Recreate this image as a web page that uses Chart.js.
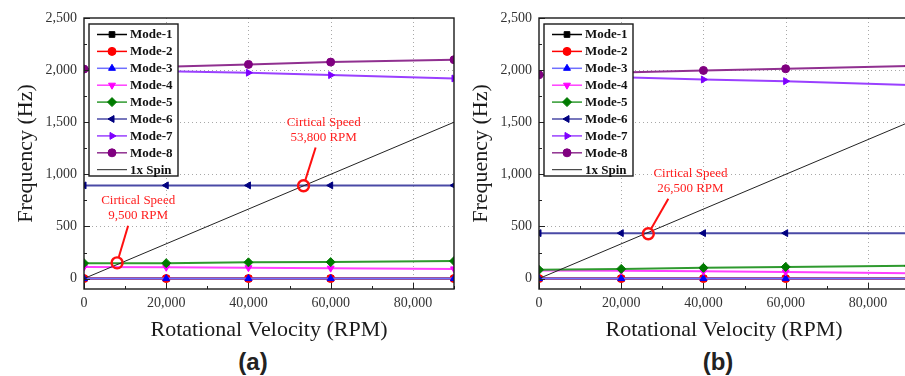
<!DOCTYPE html>
<html>
<head>
<meta charset="utf-8">
<script src="https://cdn.jsdelivr.net/npm/chart.js@4.4.0/dist/chart.umd.min.js"></script>
<style>
  html, body { margin: 0; padding: 0; background: #fff; overflow: hidden; }
  body { width: 905px; height: 376px; position: relative; }
  .panel { position: absolute; top: 0; width: 460px; height: 345px; }
  .tag { position: absolute; top: 347px; width: 80px; text-align: center;
         font: bold 24px 'Liberation Sans', sans-serif; color: #222; line-height: 30px; }
</style>
</head>
<body>
<div class="panel" style="left:0"><canvas id="chartA"></canvas></div>
<div class="panel" style="left:455px"><canvas id="chartB"></canvas></div>
<div class="tag" style="left:213px">(a)</div>
<div class="tag" style="left:678px">(b)</div>
<script>
// --- Data ---
const rpm = [0, 20000, 40000, 60000, 90000];
const spinRpm = [0, 90000];
const spinHz = spinRpm.map(v => v / 60);   // 1x spin line: f = rpm / 60

const modeNames = ['Mode-1', 'Mode-2', 'Mode-3', 'Mode-4', 'Mode-5', 'Mode-6', 'Mode-7', 'Mode-8'];

// panel (a)
const a1 = [0, 0, 0, 0, 0];
const a2 = [0, 0, 0, 0, 0];
const a3 = [0, 0, 0, 0, 0];
const a4 = [110, 108, 104, 100, 93];
const a5 = [148, 148, 156, 158, 168];
const a6 = [894, 894, 894, 894, 894];
const a7 = [2000, 1988, 1975, 1952, 1920];
const a8 = [2010, 2032, 2055, 2077, 2100];

// panel (b)
const b1 = [0, 0, 0, 0, 0];
const b2 = [0, 0, 0, 0, 0];
const b3 = [0, 0, 0, 0, 0];
const b4 = [77, 74, 70, 64, 52];
const b5 = [84, 93, 103, 112, 122];
const b6 = [436, 436, 436, 436, 436];
const b7 = [1952, 1932, 1910, 1894, 1856];
const b8 = [1955, 1978, 1997, 2013, 2040];

const xTicks = [0, 20000, 40000, 60000, 80000];
const yTicks = [0, 500, 1000, 1500, 2000, 2500];
const xMinor = [10000, 30000, 50000, 70000, 90000];
const yMinor = [250, 750, 1250, 1750, 2250];

// critical speed annotations: circle (rpm, Hz), label centre, pointer start
const notesA = [
  { cx: 53400, cy: 890, px: 56340, py: 1257, lx: 58300, ly: 1420, text: ['Cirtical Speed', '53,800 RPM'] },
  { cx: 8050, cy: 151, px: 10730, py: 507, lx: 13170, ly: 680, text: ['Cirtical Speed', '9,500 RPM'] }
];
const notesB = [
  { cx: 26585, cy: 430, px: 31460, py: 766, lx: 36830, ly: 940, text: ['Cirtical Speed', '26,500 RPM'] }
];

// --- Styles ---
const modeStyle = [
  { color: '#000000', line: '#000000', point: 'rect', rot: 0 },
  { color: '#ff0000', line: '#ff0000', point: 'circle', rot: 0 },
  { color: '#0000ff', line: '#6f6fff', point: 'triangle', rot: 0 },
  { color: '#ff00ff', line: '#ff40ff', point: 'triangle', rot: 180 },
  { color: '#007a00', line: '#2f9a2f', point: 'rectRot', rot: 0 },
  { color: '#000080', line: '#4a4aa6', point: 'triangle', rot: 270 },
  { color: '#7f00ff', line: '#9a40ff', point: 'triangle', rot: 90 },
  { color: '#800080', line: '#903090', point: 'circle', rot: 0 }
];

const serif = "'Liberation Serif', 'Times New Roman', serif";

function buildDatasets(modes) {
  const sets = modes.map((vals, i) => ({
    label: modeNames[i],
    data: rpm.map((x, k) => ({ x: x, y: vals[k] })),
    borderColor: modeStyle[i].line,
    backgroundColor: modeStyle[i].color,
    pointBorderColor: modeStyle[i].color,
    pointBackgroundColor: modeStyle[i].color,
    pointStyle: modeStyle[i].point,
    rotation: modeStyle[i].rot,
    pointRadius: modeStyle[i].point === 'rectRot' ? 4.5 : 4,
    pointBorderWidth: 1,
    borderWidth: 2,
    order: 10 - i
  }));
  sets.push({
    label: '1x Spin',
    data: spinRpm.map((x, k) => ({ x: x, y: spinHz[k] })),
    borderColor: '#222',
    borderWidth: 1,
    pointRadius: 0,
    order: 0
  });
  return sets;
}

// dotted grid under the data
const gridPlugin = {
  id: 'dotGrid',
  beforeDatasetsDraw(chart) {
    const ctx = chart.ctx;
    const area = chart.chartArea;
    const xs = chart.scales.x, ys = chart.scales.y;
    ctx.save();
    ctx.strokeStyle = '#a8a8a8';
    ctx.lineWidth = 1;
    ctx.setLineDash([1, 3]);
    ctx.beginPath();
    xTicks.slice(1).forEach(v => { const px = Math.round(xs.getPixelForValue(v)) + 0.5; ctx.moveTo(px, area.top); ctx.lineTo(px, area.bottom); });
    yTicks.slice(1, -1).forEach(v => { const py = Math.round(ys.getPixelForValue(v)) + 0.5; ctx.moveTo(area.left, py); ctx.lineTo(area.right, py); });
    ctx.stroke();
    ctx.restore();
  }
};

// frame, inward ticks, legend box and annotations
const decorPlugin = {
  id: 'decor',
  afterDatasetsDraw(chart) {
    const ctx = chart.ctx;
    const area = chart.chartArea;
    const xs = chart.scales.x, ys = chart.scales.y;
    ctx.save();

    // inward tick marks
    ctx.strokeStyle = '#222';
    ctx.lineWidth = 1;
    ctx.beginPath();
    xTicks.forEach(v => { const px = Math.round(xs.getPixelForValue(v)) + 0.5; ctx.moveTo(px, area.bottom); ctx.lineTo(px, area.bottom - 6); });
    xMinor.forEach(v => { const px = Math.round(xs.getPixelForValue(v)) + 0.5; ctx.moveTo(px, area.bottom); ctx.lineTo(px, area.bottom - 3); });
    yTicks.forEach(v => { const py = Math.round(ys.getPixelForValue(v)) + 0.5; ctx.moveTo(area.left, py); ctx.lineTo(area.left + 6, py); });
    yMinor.forEach(v => { const py = Math.round(ys.getPixelForValue(v)) + 0.5; ctx.moveTo(area.left, py); ctx.lineTo(area.left + 3, py); });
    ctx.stroke();

    // plot frame
    ctx.strokeStyle = '#1a1a1a';
    ctx.lineWidth = 1.4;
    ctx.strokeRect(area.left, area.top, area.right - area.left, area.bottom - area.top);

    // annotations
    const notes = chart.options.plugins.decor.notes;
    notes.forEach(n => {
      const cx = xs.getPixelForValue(n.cx), cy = ys.getPixelForValue(n.cy);
      const px = xs.getPixelForValue(n.px), py = ys.getPixelForValue(n.py);
      const ang = Math.atan2(py - cy, px - cx);
      ctx.strokeStyle = '#ff1010';
      ctx.lineWidth = 2;
      ctx.beginPath();
      ctx.moveTo(px, py);
      ctx.lineTo(cx + Math.cos(ang) * 6, cy + Math.sin(ang) * 6);
      ctx.stroke();
      ctx.lineWidth = 2.4;
      ctx.beginPath();
      ctx.arc(cx, cy, 5.5, 0, Math.PI * 2);
      ctx.stroke();
      ctx.fillStyle = '#ff2020';
      ctx.font = '13px ' + serif;
      ctx.textAlign = 'center';
      ctx.textBaseline = 'middle';
      const lx = xs.getPixelForValue(n.lx), ly = ys.getPixelForValue(n.ly);
      ctx.fillText(n.text[0], lx, ly - 7.5);
      ctx.fillText(n.text[1], lx, ly + 7.5);
    });

    // legend box
    const bx = area.left + 5, by = area.top + 6, bw = 89, bh = 152;
    ctx.fillStyle = '#fff';
    ctx.fillRect(bx, by, bw, bh);
    ctx.strokeStyle = '#1a1a1a';
    ctx.lineWidth = 1.4;
    ctx.strokeRect(bx, by, bw, bh);
    ctx.font = 'bold 13px ' + serif;
    ctx.textAlign = 'left';
    ctx.textBaseline = 'middle';
    chart.data.datasets.forEach((ds, i) => {
      const ry = by + 10.5 + i * 16.9;
      ctx.strokeStyle = ds.borderColor;
      ctx.lineWidth = ds.borderWidth === 1 ? 1 : 1.5;
      ctx.beginPath();
      ctx.moveTo(bx + 8, ry);
      ctx.lineTo(bx + 38, ry);
      ctx.stroke();
      if (ds.pointRadius > 0) {
        ctx.fillStyle = ds.pointBackgroundColor;
        ctx.strokeStyle = ds.pointBorderColor;
        ctx.lineWidth = 1;
        Chart.helpers.drawPoint(ctx, { pointStyle: ds.pointStyle, rotation: ds.rotation, radius: ds.pointRadius, borderWidth: 1 }, bx + 23, ry);
      }
      ctx.fillStyle = '#111';
      ctx.fillText(ds.label, bx + 41, ry + 0.5);
    });
    ctx.restore();
  }
};

function makeChart(id, modes, notes) {
  return new Chart(document.getElementById(id), {
    type: 'line',
    data: { datasets: buildDatasets(modes) },
    plugins: [gridPlugin, decorPlugin],
    options: {
      responsive: true,
      maintainAspectRatio: false,
      animation: false,
      layout: { padding: { left: 0, top: 18, right: 6, bottom: 0 } },
      plugins: {
        legend: { display: false },
        tooltip: { enabled: false },
        decor: { notes: notes }
      },
      scales: {
        x: {
          type: 'linear',
          min: 0,
          max: 90000,
          afterBuildTicks: s => { s.ticks = xTicks.map(v => ({ value: v })); },
          afterFit: s => { s.height = 56; },
          grid: { display: false, drawTicks: false },
          border: { display: false },
          ticks: {
            padding: 6,
            color: '#333',
            font: { family: serif, size: 14 },
            callback: v => v.toLocaleString('en-US')
          },
          title: {
            display: true,
            text: 'Rotational Velocity (RPM)',
            color: '#1a1a1a',
            font: { family: serif, size: 22 },
            padding: { top: 0, bottom: 2 }
          }
        },
        y: {
          type: 'linear',
          min: -100,
          max: 2500,
          afterBuildTicks: s => { s.ticks = yTicks.map(v => ({ value: v })); },
          afterFit: s => { s.width = 84; },
          grid: { display: false, drawTicks: false },
          border: { display: false },
          ticks: {
            padding: 7,
            color: '#333',
            font: { family: serif, size: 14 },
            callback: v => v.toLocaleString('en-US')
          },
          title: {
            display: true,
            text: 'Frequency (Hz)',
            color: '#1a1a1a',
            font: { family: serif, size: 22 },
            padding: { top: 13, bottom: 0 }
          }
        }
      }
    }
  });
}

makeChart('chartA', [a1, a2, a3, a4, a5, a6, a7, a8], notesA);
makeChart('chartB', [b1, b2, b3, b4, b5, b6, b7, b8], notesB);
</script>
</body>
</html>
